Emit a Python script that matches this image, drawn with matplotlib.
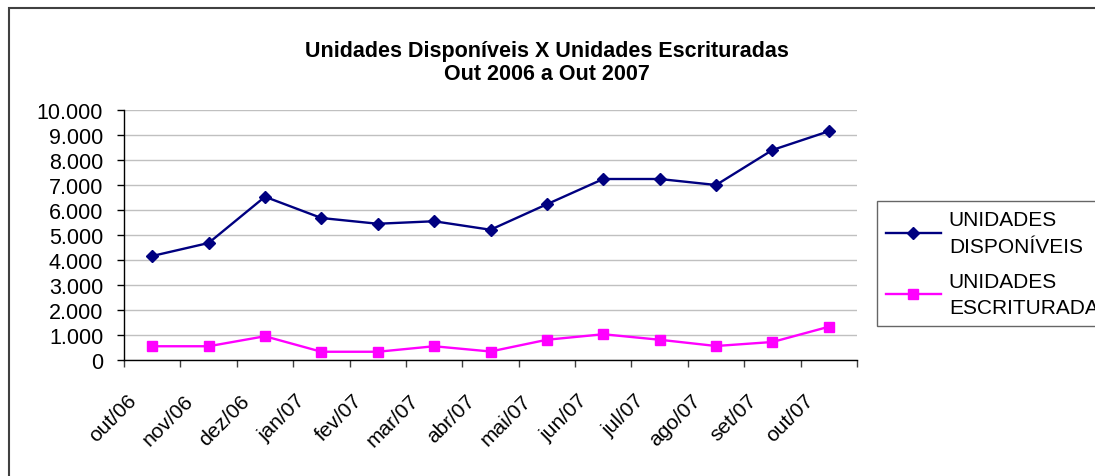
import matplotlib
matplotlib.use("Agg")
import matplotlib.pyplot as plt
from matplotlib.patches import Rectangle
from matplotlib.ticker import FuncFormatter, FixedLocator
from matplotlib.transforms import ScaledTranslation
import numpy as np

# Valores
MESES = ["out/06", "nov/06", "dez/06", "jan/07", "fev/07", "mar/07", "abr/07",
         "mai/07", "jun/07", "jul/07", "ago/07", "set/07", "out/07"]
DISPONIVEIS = [4160, 4680, 6530, 5680, 5450, 5550, 5210,
               6230, 7240, 7240, 7000, 8400, 9150]
ESCRITURADAS = [550, 550, 950, 330, 330, 550, 340,
                810, 1030, 810, 560, 720, 1330]

plt.rcParams['font.family'] = ['Liberation Sans', 'DejaVu Sans']
FS = 15

W, H = 1095, 477
fig = plt.figure(figsize=(W / 100, H / 100), dpi=100)
ax = fig.add_axes([124 / W, 1 - 361 / H, (857 - 124) / W, (361 - 111) / H])

x = np.arange(len(MESES))
ax.plot(x, DISPONIVEIS, color="#000080", lw=1.7, marker="D", markersize=6.5,
        label="UNIDADES\nDISPONÍVEIS")
ax.plot(x, ESCRITURADAS, color="#ff00ff", lw=1.7, marker="s", markersize=7.5,
        label="UNIDADES\nESCRITURADAS")

ax.set_xlim(-0.5, len(MESES) - 0.5)
ax.set_ylim(0, 10000)
ax.set_yticks(np.arange(0, 10001, 1000))
ax.yaxis.set_major_formatter(FuncFormatter(lambda v, p: f"{int(v):,}".replace(",", ".")))
ax.grid(axis="y", color="#c0c0c0", lw=1)
ax.set_axisbelow(True)

ax.set_xticks(x)
ax.set_xticklabels(MESES, rotation=45, ha="right", va="top")
ax.xaxis.set_minor_locator(FixedLocator(np.arange(-0.5, len(MESES), 1.0)))
ax.tick_params(axis="x", which="major", length=0, pad=22, labelsize=FS)
ax.tick_params(axis="x", which="minor", length=5, width=1, color="#404040")
ax.tick_params(axis="y", length=5, width=1, pad=10, labelsize=15.5)
for lbl in ax.get_xticklabels():
    lbl.set_transform(lbl.get_transform() + ScaledTranslation(-0.12, 0, fig.dpi_scale_trans))

for s in ["top", "right"]:
    ax.spines[s].set_visible(False)
for s in ["left", "bottom"]:
    ax.spines[s].set_color("black")
    ax.spines[s].set_linewidth(1)

fig.text(547 / W, 1 - 41 / H, "Unidades Disponíveis X Unidades Escrituradas\nOut 2006 a Out 2007",
         ha="center", va="top", fontsize=15.5, fontweight="bold", linespacing=1.1)

leg = ax.legend(loc="upper left", bbox_to_anchor=(877 / W, 1 - 202 / H),
                bbox_transform=fig.transFigure, fontsize=FS, frameon=True,
                fancybox=False, edgecolor="#404040", handlelength=2.6,
                borderaxespad=0, labelspacing=0.75, handletextpad=0.4,
                borderpad=0.45)
leg.get_frame().set_linewidth(1)
for t in leg.get_texts():
    t.set_linespacing(1.5)

# moldura da área do gráfico
fig.patches.append(Rectangle((9 / W, -0.1), 1.2, 1.1 - 9 / H, transform=fig.transFigure,
                             fill=False, edgecolor="#404040", lw=1.5))

fig.savefig("out.png", dpi=100)
